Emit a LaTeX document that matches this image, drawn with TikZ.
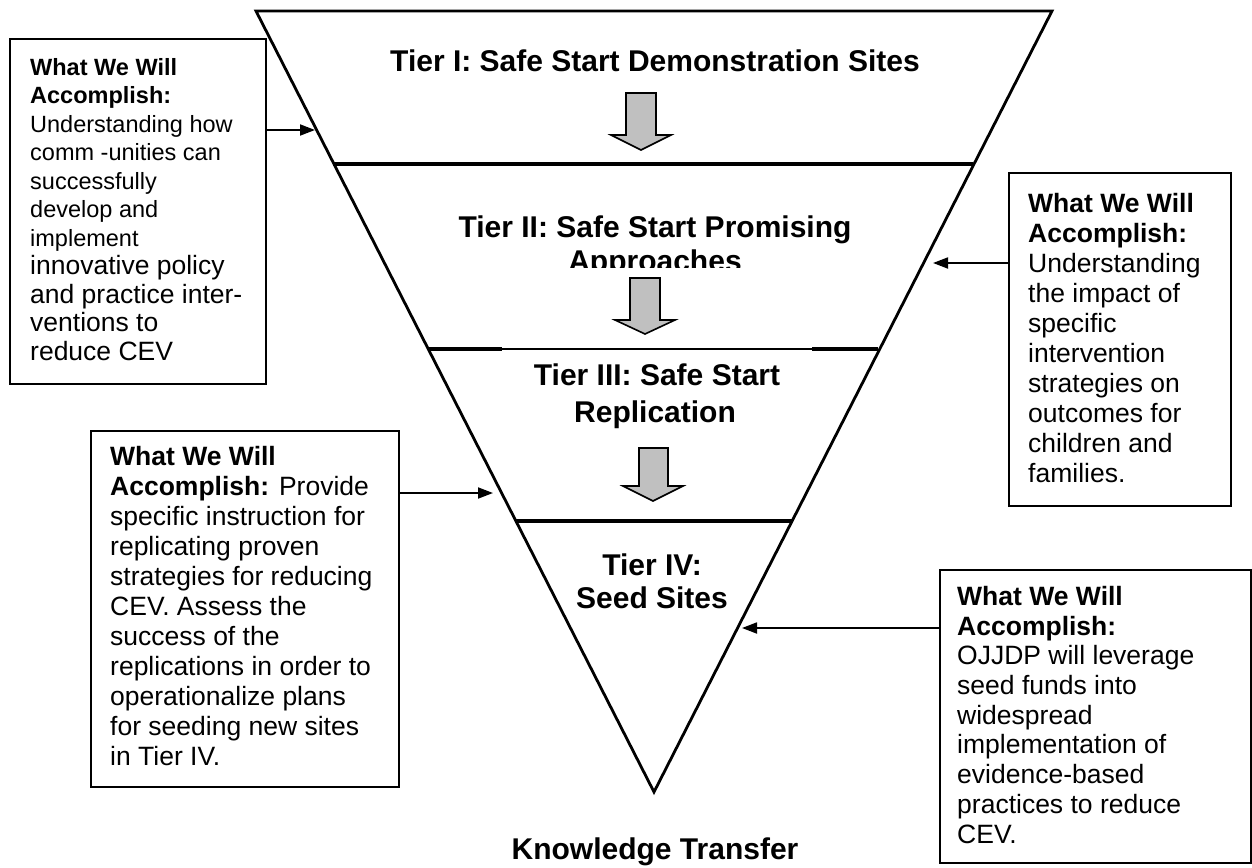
\documentclass[tikz,border=0pt]{standalone}
\usepackage{fontspec}
\setmainfont{Liberation Sans}
\usetikzlibrary{arrows.meta}
\definecolor{arrowgray}{RGB}{192,192,192}
\begin{document}
\begin{tikzpicture}[x=1pt,y=-1pt,
  tri/.style={line width=2.8pt, line join=miter},
  tierline/.style={line width=4.2pt},
  thinline/.style={line width=1.6pt},
  bigarrow/.style={fill=arrowgray, draw=black, line width=1.6pt, line join=miter},
  boxframe/.style={draw, line width=2.2pt, inner sep=0pt, anchor=north west},
  conn/.style={line width=1.8pt, -{Triangle[length=15pt,width=11pt]}},
  tiertext/.style={anchor=base, inner sep=0pt, font=\bfseries\fontsize{30}{35}\selectfont},
  boxtext/.style={anchor=north west, inner sep=0pt, align=left}
]
\useasboundingbox (0,0) rectangle (1252,867);

% funnel
\coordinate (tl) at (256,11);
\coordinate (tr) at (1052,11);
\coordinate (ap) at (654,792);
\draw[tri] (tl) -- (tr) -- (ap) -- cycle;

% tier lines
\draw[tierline] (333,164) -- (973,164);
\draw[tierline] (429,349) -- (502,349);
\draw[thinline] (502,349) -- (812,349);
\draw[tierline] (812,349) -- (878,349);
\draw[tierline] (516,521) -- (792,521);

% tier texts
\node[tiertext] (t1) at (655,71) {Tier I: Safe Start Demonstration Sites};
\node[tiertext] (t2a) at (655,237) {Tier II: Safe Start Promising};
\begin{scope}
  \clip (400,240) rectangle (900,267);
  \node[tiertext] (t2b) at (655,271) {Approaches};
\end{scope}
\node[tiertext] (t3a) at (657,385) {Tier III: Safe Start};
\node[tiertext] (t3b) at (655,422) {Replication};
\node[tiertext] (t4a) at (652,575) {Tier IV:};
\node[tiertext] (t4b) at (652,608) {Seed Sites};
\node[tiertext] (kt) at (655,859) {Knowledge Transfer};

% grey block arrows
\draw[bigarrow] (626,93) -- (656,93) -- (656,135) -- (671,135) -- (641,150) -- (611,135) -- (626,135) -- cycle;
\draw[bigarrow] (630,278) -- (660,278) -- (660,320) -- (675,320) -- (645,334) -- (615,320) -- (630,320) -- cycle;
\draw[bigarrow] (639,448) -- (668,448) -- (668,486) -- (683,486) -- (653,501) -- (623,486) -- (639,486) -- cycle;

% boxes
\node[boxframe, minimum width=256pt, minimum height=345pt] (box1) at (9,38) {};
\node[boxframe, minimum width=222pt, minimum height=333pt] (box2) at (1008,172) {};
\node[boxframe, minimum width=308pt, minimum height=356pt] (box3) at (90,430) {};
\node[boxframe, minimum width=311pt, minimum height=293pt] (box4) at (939,569) {};

% box texts
\node[boxtext, font=\fontsize{23.5}{28.5}\selectfont] (bt1) at (30,58) {%
  \textbf{What We Will}\\
  \textbf{Accomplish:}\\
  Understanding how\\
  comm -unities can\\
  successfully\\
  develop and\\
  implement\\
  \fontsize{26.5}{28.5}\selectfont innovative policy\\
  \fontsize{26.5}{28.5}\selectfont and practice inter-\\
  \fontsize{26.5}{28.5}\selectfont ventions to\\
  \fontsize{26.5}{28.5}\selectfont reduce CEV};
\node[boxtext, font=\fontsize{26.5}{30}\selectfont] (bt2) at (1028,193) {%
  \textbf{What We Will}\\
  \textbf{Accomplish:}\\
  Understanding\\
  the impact of\\
  specific\\
  intervention\\
  strategies on\\
  outcomes for\\
  children and\\
  families.};
\node[boxtext, font=\fontsize{26.5}{30}\selectfont] (bt3) at (110,446) {%
  \textbf{What We Will}\\
  \textbf{Accomplish:} Provide\\
  specific instruction for\\
  replicating proven\\
  strategies for reducing\\
  CEV. Assess the\\
  success of the\\
  replications in order to\\
  operationalize plans\\
  for seeding new sites\\
  in Tier IV.};
\node[boxtext, font=\fontsize{26.5}{29.7}\selectfont] (bt4) at (957,586) {%
  \textbf{What We Will}\\
  \textbf{Accomplish:}\\
  OJJDP will leverage\\
  seed funds into\\
  widespread\\
  implementation of\\
  evidence-based\\
  practices to reduce\\
  CEV.};

% connectors
\coordinate (tip1) at (315,130);
\coordinate (tip2) at (933,263);
\coordinate (tip3) at (493,493);
\coordinate (tip4) at (742,628);
\draw[conn] (box1.east |- tip1) -- (tip1);
\draw[conn] (box2.west |- tip2) -- (tip2);
\draw[conn] (box3.east |- tip3) -- (tip3);
\draw[conn] (box4.west |- tip4) -- (tip4);
\end{tikzpicture}
\end{document}
